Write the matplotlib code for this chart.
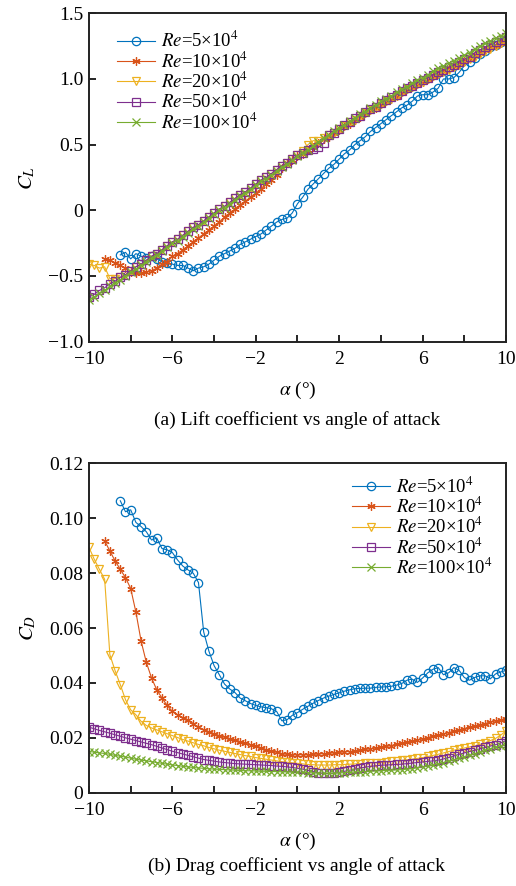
import numpy as np
import matplotlib
matplotlib.use("Agg")
import matplotlib.pyplot as plt

plt.rcParams['font.family'] = ['Liberation Serif', 'DejaVu Serif']
plt.rcParams['mathtext.fontset'] = 'stix'

# angle of attack grid (deg), every series ends at 10 deg
alpha = np.arange(-10, 10.001, 0.25)

labels = [r'$Re$=5×10$^4$', r'$Re$=10×10$^4$', r'$Re$=20×10$^4$',
          r'$Re$=50×10$^4$', r'$Re$=100×10$^4$']
colors = ['#0072BD', '#D95319', '#EDB120', '#7E2F8E', '#77AC30']
markers = ['o', (6, 2, 0), 'v', 's', 'x']

# ---- lift coefficient ----
cl_re5 = [-0.34, -0.32, -0.37, -0.33, -0.35, -0.36, -0.35, -0.37, -0.39, -0.40,
          -0.41, -0.42, -0.42, -0.44, -0.46, -0.44, -0.43, -0.41, -0.38, -0.35,
          -0.33, -0.31, -0.29, -0.26, -0.24, -0.22, -0.20, -0.18, -0.15, -0.12,
          -0.09, -0.07, -0.06, -0.02, 0.05, 0.10, 0.16, 0.20, 0.24, 0.28,
          0.32, 0.35, 0.39, 0.43, 0.46, 0.50, 0.53, 0.56, 0.60, 0.63,
          0.66, 0.69, 0.72, 0.75, 0.78, 0.80, 0.83, 0.87, 0.88, 0.88,
          0.90, 0.93, 1.00, 1.00, 1.01, 1.05, 1.10, 1.13, 1.16, 1.19,
          1.21, 1.24, 1.26, 1.28, 1.30]
cl_re10 = [-0.37, -0.38, -0.40, -0.42, -0.44, -0.47, -0.48, -0.48, -0.47, -0.46,
           -0.44, -0.41, -0.39, -0.35, -0.33, -0.30, -0.27, -0.24, -0.21, -0.18,
           -0.15, -0.12, -0.09, -0.05, -0.02, 0.01, 0.04, 0.07, 0.10, 0.13,
           0.16, 0.20, 0.23, 0.27, 0.32, 0.36, 0.38, 0.41, 0.43, 0.46,
           0.48, 0.51, 0.54, 0.56, 0.59, 0.61, 0.64, 0.66, 0.69, 0.71,
           0.74, 0.76, 0.78, 0.81, 0.83, 0.85, 0.87, 0.90, 0.92, 0.94,
           0.96, 0.98, 1.00, 1.02, 1.04, 1.06, 1.08, 1.10, 1.12, 1.14,
           1.16, 1.18, 1.20, 1.22, 1.24, 1.25, 1.27, 1.28]
cl_re20 = [-0.41, -0.42, -0.44, -0.43, -0.52, -0.52, -0.51, -0.49, -0.46, -0.43,
           -0.41, -0.38, -0.35, -0.33, -0.30, -0.27, -0.24, -0.22, -0.19, -0.16,
           -0.13, -0.11, -0.08, -0.05, -0.02, 0.01, 0.03, 0.06, 0.09, 0.12,
           0.14, 0.17, 0.20, 0.23, 0.25, 0.28, 0.31, 0.34, 0.36, 0.39,
           0.42, 0.45, 0.50, 0.53, 0.53, 0.55, 0.57, 0.59, 0.62, 0.64,
           0.67, 0.69, 0.72, 0.74, 0.76, 0.79, 0.81, 0.83, 0.85, 0.87,
           0.90, 0.92, 0.94, 0.96, 0.98, 1.00, 1.02, 1.04, 1.05, 1.07,
           1.09, 1.11, 1.13, 1.15, 1.17, 1.19, 1.21, 1.23, 1.25, 1.27,
           1.28]
cl_re50 = [-0.66, -0.64, -0.61, -0.59, -0.56, -0.54, -0.51, -0.49, -0.46, -0.43,
           -0.41, -0.38, -0.35, -0.33, -0.30, -0.27, -0.24, -0.22, -0.19, -0.16,
           -0.13, -0.11, -0.08, -0.05, -0.02, 0.01, 0.03, 0.06, 0.09, 0.12,
           0.14, 0.17, 0.20, 0.23, 0.25, 0.28, 0.31, 0.34, 0.36, 0.39,
           0.42, 0.44, 0.46, 0.47, 0.48, 0.51, 0.57, 0.59, 0.62, 0.65,
           0.67, 0.70, 0.72, 0.75, 0.77, 0.79, 0.82, 0.84, 0.86, 0.88,
           0.91, 0.93, 0.95, 0.97, 0.99, 1.01, 1.03, 1.05, 1.07, 1.09,
           1.11, 1.13, 1.15, 1.17, 1.20, 1.22, 1.24, 1.26, 1.28, 1.30,
           1.32]
cl_re100 = [-0.68, -0.66, -0.63, -0.61, -0.58, -0.55, -0.53, -0.50, -0.47, -0.45,
            -0.42, -0.39, -0.36, -0.34, -0.31, -0.28, -0.25, -0.23, -0.20, -0.17,
            -0.14, -0.12, -0.09, -0.06, -0.03, 0.00, 0.02, 0.05, 0.08, 0.11,
            0.13, 0.16, 0.19, 0.22, 0.24, 0.27, 0.30, 0.33, 0.35, 0.38,
            0.41, 0.44, 0.46, 0.49, 0.52, 0.55, 0.57, 0.60, 0.63, 0.65,
            0.68, 0.70, 0.73, 0.75, 0.78, 0.80, 0.83, 0.85, 0.87, 0.90,
            0.92, 0.94, 0.97, 0.99, 1.01, 1.03, 1.06, 1.08, 1.10, 1.12,
            1.14, 1.16, 1.18, 1.20, 1.23, 1.25, 1.27, 1.29, 1.31, 1.33,
            1.35]

# ---- drag coefficient ----
cd_re5 = [0.1064, 0.1024, 0.1031, 0.0985, 0.0970, 0.0951, 0.0921, 0.0928, 0.0890, 0.0885,
          0.0875, 0.0848, 0.0826, 0.0812, 0.0800, 0.0766, 0.0586, 0.0516, 0.0463, 0.0430,
          0.0396, 0.0378, 0.0365, 0.0345, 0.0335, 0.0325, 0.0318, 0.0313, 0.0310, 0.0306,
          0.0296, 0.0262, 0.0266, 0.0282, 0.0292, 0.0304, 0.0315, 0.0326, 0.0336, 0.0345,
          0.0352, 0.0358, 0.0364, 0.0370, 0.0375, 0.0379, 0.0380, 0.0381, 0.0381, 0.0384,
          0.0385, 0.0386, 0.0388, 0.0392, 0.0398, 0.0410, 0.0414, 0.0402, 0.0418, 0.0437,
          0.0450, 0.0456, 0.0430, 0.0437, 0.0456, 0.0446, 0.0420, 0.0410, 0.0420, 0.0426,
          0.0426, 0.0415, 0.0433, 0.0440, 0.0446]
cd_re10 = [0.0918, 0.0881, 0.0845, 0.0814, 0.0784, 0.0744, 0.0658, 0.0552, 0.0475, 0.0418,
           0.0375, 0.0345, 0.0318, 0.0296, 0.0284, 0.0274, 0.0265, 0.0252, 0.0240, 0.0230,
           0.0222, 0.0214, 0.0208, 0.0202, 0.0197, 0.0192, 0.0186, 0.0180, 0.0175, 0.0169,
           0.0163, 0.0157, 0.0152, 0.0147, 0.0142, 0.0140, 0.0139, 0.0138, 0.0138, 0.0139,
           0.0140, 0.0141, 0.0142, 0.0144, 0.0146, 0.0147, 0.0149, 0.0150, 0.0152, 0.0155,
           0.0158, 0.0160, 0.0163, 0.0166, 0.0169, 0.0172, 0.0176, 0.0180, 0.0184, 0.0188,
           0.0192, 0.0196, 0.0201, 0.0206, 0.0210, 0.0214, 0.0219, 0.0224, 0.0229, 0.0234,
           0.0238, 0.0243, 0.0248, 0.0252, 0.0257, 0.0262, 0.0266, 0.0270]
cd_re20 = [0.0894, 0.0851, 0.0814, 0.0778, 0.0503, 0.0445, 0.0394, 0.0339, 0.0302, 0.0284,
           0.0260, 0.0245, 0.0236, 0.0229, 0.0222, 0.0215, 0.0208, 0.0201, 0.0194, 0.0188,
           0.0182, 0.0176, 0.0171, 0.0165, 0.0160, 0.0155, 0.0151, 0.0147, 0.0143, 0.0139,
           0.0135, 0.0132, 0.0128, 0.0125, 0.0122, 0.0119, 0.0116, 0.0113, 0.0111, 0.0109,
           0.0107, 0.0105, 0.0103, 0.0102, 0.0101, 0.0101, 0.0101, 0.0102, 0.0102, 0.0103,
           0.0104, 0.0105, 0.0106, 0.0107, 0.0108, 0.0109, 0.0110, 0.0112, 0.0114, 0.0116,
           0.0118, 0.0120, 0.0122, 0.0125, 0.0128, 0.0132, 0.0136, 0.0140, 0.0145, 0.0150,
           0.0155, 0.0159, 0.0163, 0.0167, 0.0171, 0.0176, 0.0182, 0.0190, 0.0198, 0.0210,
           0.0225]
cd_re50 = [0.0239, 0.0233, 0.0227, 0.0222, 0.0217, 0.0211, 0.0206, 0.0200, 0.0195, 0.0190,
           0.0185, 0.0180, 0.0175, 0.0169, 0.0163, 0.0157, 0.0151, 0.0146, 0.0141, 0.0136,
           0.0131, 0.0126, 0.0121, 0.0118, 0.0115, 0.0112, 0.0110, 0.0108, 0.0106, 0.0105,
           0.0104, 0.0103, 0.0102, 0.0101, 0.0100, 0.0099, 0.0097, 0.0096, 0.0094, 0.0092,
           0.0089, 0.0086, 0.0082, 0.0077, 0.0072, 0.0070, 0.0070, 0.0071, 0.0074, 0.0078,
           0.0082, 0.0086, 0.0090, 0.0093, 0.0096, 0.0098, 0.0100, 0.0101, 0.0102, 0.0103,
           0.0104, 0.0106, 0.0108, 0.0110, 0.0112, 0.0114, 0.0116, 0.0119, 0.0123, 0.0128,
           0.0134, 0.0140, 0.0145, 0.0150, 0.0155, 0.0160, 0.0165, 0.0170, 0.0175, 0.0182,
           0.0190]
cd_re100 = [0.0150, 0.0148, 0.0145, 0.0143, 0.0140, 0.0136, 0.0133, 0.0130, 0.0126, 0.0122,
            0.0119, 0.0116, 0.0113, 0.0110, 0.0107, 0.0104, 0.0101, 0.0099, 0.0096, 0.0094,
            0.0092, 0.0090, 0.0089, 0.0087, 0.0086, 0.0085, 0.0084, 0.0083, 0.0082, 0.0081,
            0.0080, 0.0080, 0.0079, 0.0078, 0.0078, 0.0077, 0.0077, 0.0076, 0.0076, 0.0075,
            0.0075, 0.0074, 0.0073, 0.0072, 0.0071, 0.0071, 0.0071, 0.0071, 0.0072, 0.0073,
            0.0074, 0.0075, 0.0076, 0.0077, 0.0078, 0.0079, 0.0080, 0.0081, 0.0082, 0.0083,
            0.0084, 0.0086, 0.0088, 0.0091, 0.0094, 0.0097, 0.0101, 0.0105, 0.0110, 0.0115,
            0.0120, 0.0125, 0.0130, 0.0136, 0.0142, 0.0148, 0.0154, 0.0160, 0.0165, 0.0170,
            0.0175]

cl_all = [cl_re5, cl_re10, cl_re20, cl_re50, cl_re100]
cd_all = [cd_re5, cd_re10, cd_re20, cd_re50, cd_re100]

fig = plt.figure(figsize=(5.16, 8.86), dpi=100)
ax1 = fig.add_axes([0.1725, 0.6144, 0.8081, 0.3706])
ax2 = fig.add_axes([0.1725, 0.1053, 0.8081, 0.3716])

FS = 14
LFS = 13.5  # legend


def draw(ax, series):
    for vals, lab, c, m in zip(series, labels, colors, markers):
        a = alpha[-len(vals):]
        ax.plot(a, vals, color=c, lw=0.8, marker=m, ms=6, mfc='none',
                mec=c, mew=0.9, label=lab)
    ax.set_xlim(-10, 10)
    ax.set_xticks(np.arange(-10, 11, 2))
    ax.set_xticklabels(['−10', '', '−6', '', '−2', '', '2', '', '6', '', '10'])
    ax.tick_params(direction='in', length=5, width=1.2, labelsize=FS,
                   top=False, right=False)
    ax.tick_params(axis='x', pad=7)
    ax.tick_params(axis='y', pad=4)
    for s in ax.spines.values():
        s.set_linewidth(1.4)
        s.set_color('#222222')
    ax.set_xlabel(r'$\alpha$ (°)', fontsize=FS, labelpad=8)


draw(ax1, cl_all)
ax1.set_ylim(-1.0, 1.5)
ax1.set_yticks([-1.0, -0.5, 0, 0.5, 1.0, 1.5])
ax1.set_yticklabels(['−1.0', '−0.5', '0', '0.5', '1.0', '1.5'])
ax1.set_ylabel(r'$C_L$', fontsize=FS + 1, labelpad=8)
ax1.legend(loc='upper left', bbox_to_anchor=(0.04, 0.98), frameon=False,
           fontsize=LFS, handlelength=2.05, labelspacing=0.0, handletextpad=0.3,
           borderaxespad=0.2)

draw(ax2, cd_all)
ax2.set_ylim(0, 0.12)
ax2.set_yticks([0, 0.02, 0.04, 0.06, 0.08, 0.10, 0.12])
ax2.set_yticklabels(['0', '0.02', '0.04', '0.06', '0.08', '0.10', '0.12'])
ax2.set_ylabel(r'$C_D$', fontsize=FS + 1, labelpad=8)
ax2.legend(loc='upper right', bbox_to_anchor=(0.995, 0.995), frameon=False,
           fontsize=LFS, handlelength=2.05, labelspacing=0.0, handletextpad=0.3,
           borderaxespad=0.2)

fig.text(0.575, 1 - 420 / 886, '(a) Lift coefficient vs angle of attack',
         ha='center', va='center', fontsize=FS)
fig.text(0.575, 1 - 866 / 886, '(b) Drag coefficient vs angle of attack',
         ha='center', va='center', fontsize=FS)

fig.savefig('out.png', dpi=100)
